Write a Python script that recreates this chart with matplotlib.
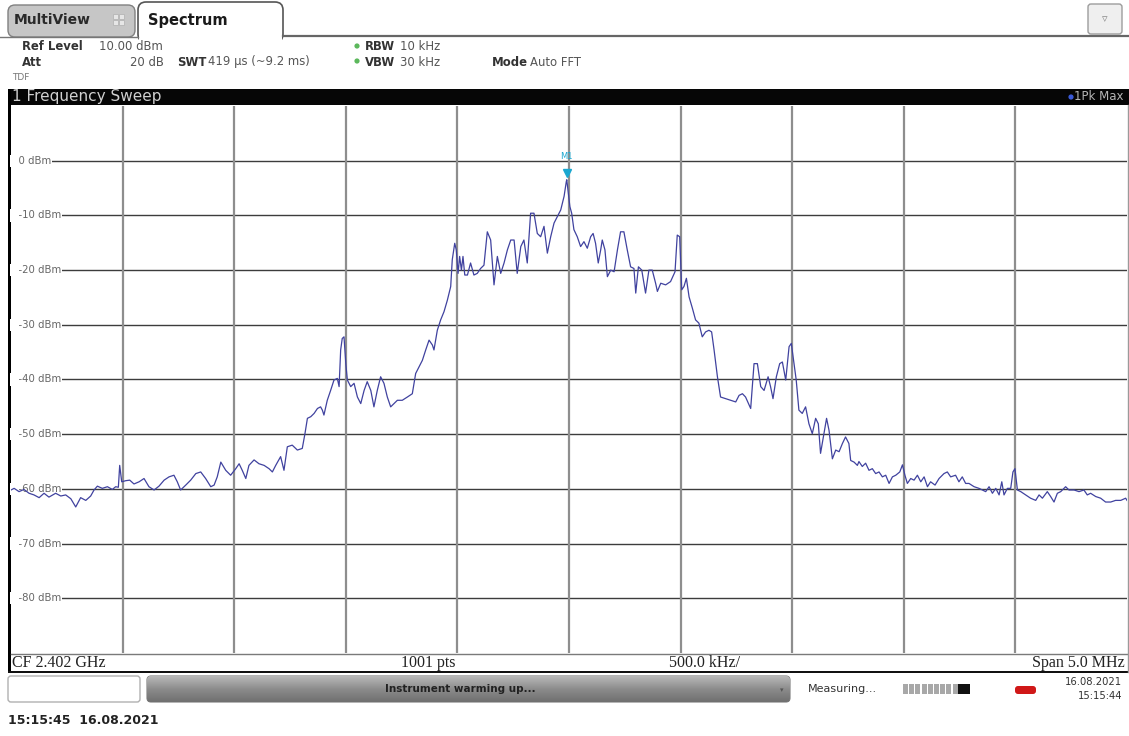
import numpy as np
import matplotlib
matplotlib.use('Agg')
import matplotlib.pyplot as plt
from matplotlib.patches import Rectangle, FancyBboxPatch, Circle
from matplotlib.transforms import blended_transform_factory

W, H = 1129, 736

# ---------------- data ----------------
center_ghz = 2.402
span_mhz = 5.0
n_points = 1001
ref_level_dbm = 10.0
level_ticks = [0, -10, -20, -30, -40, -50, -60, -70, -80]
freq_ticks_khz = [-2000, -1500, -1000, -500, 0, 500, 1000, 1500, 2000]
marker_freq_khz = -10
marker_level_dbm = -3.48

freq_khz = [
    -2500, -2486, -2464, -2442, -2419, -2397, -2374, -2352, -2330, -2300,
    -2277, -2255, -2232, -2210, -2188, -2165, -2143, -2128, -2113, -2091,
    -2068, -2046, -2031, -2019, -2013, -2004, -1986, -1968, -1949, -1926,
    -1904, -1882, -1859, -1837, -1814, -1792, -1770, -1755, -1740, -1717,
    -1695, -1672, -1650, -1628, -1605, -1590, -1576, -1560, -1538, -1516,
    -1493, -1478, -1464, -1448, -1434, -1411, -1389, -1366, -1344, -1329,
    -1314, -1292, -1277, -1262, -1240, -1217, -1195, -1183, -1172,
    -1157, -1142, -1127, -1113, -1105, -1098, -1083, -1068, -1053, -1038,
    -1030, -1023, -1016, -1008, -1000, -993, -978, -963, -948, -933,
    -918, -904, -888, -874, -859, -844, -829, -814, -799, -784,
    -769, -747, -724, -702, -687, -672, -657, -642, -627, -612,
    -605, -590, -575, -560, -545, -530, -523, -512, -505, -497,
    -490, -482, -475, -467, -455, -441, -426, -411, -396, -381,
    -366, -351, -336, -321, -306, -291, -276, -261, -246, -232,
    -216, -202, -187, -172, -157, -142, -127, -112, -97, -82,
    -67, -52, -37, -22, -12, -10, 4,
    12, 22, 37, 52, 67, 82, 97, 108, 119, 131,
    142, 149, 161, 172, 187, 202, 217, 231, 246, 261,
    276, 291, 299, 311, 326, 343, 358, 373, 388, 396,
    411, 433, 455, 475, 485, 496, 505, 515, 526, 538,
    553, 567, 582, 597, 612, 627, 639, 650, 665, 679,
    702, 724, 747, 762, 777, 791, 814, 829, 844, 859,
    874, 892, 903, 914, 929, 944, 956, 971, 986, 996,
    1008, 1018, 1030, 1045, 1060, 1075, 1090, 1105, 1117, 1127,
    1142, 1154, 1165, 1180, 1195, 1210, 1225, 1239, 1254, 1262,
    1277, 1292,
    1299, 1314, 1329, 1344, 1359, 1374, 1389, 1404, 1419, 1434,
    1449, 1464, 1482, 1494, 1505, 1516, 1531, 1546, 1561, 1576,
    1591, 1606, 1620, 1640, 1658, 1680, 1695, 1710, 1732, 1747,
    1762, 1777, 1792, 1815, 1837, 1852, 1867, 1882, 1897, 1912,
    1927, 1939, 1949, 1964, 1979, 1989, 1998, 2009, 2024, 2046,
    2068, 2091, 2106, 2121, 2143, 2158, 2173, 2188, 2203, 2225,
    2240, 2263, 2285, 2307, 2322, 2337, 2360, 2382, 2404, 2427,
    2449, 2472, 2494, 2500,
]

level_dbm = [
    -60.2, -59.9, -60.5, -60.1, -60.8, -61.1, -61.6, -60.8, -61.5, -60.8,
    -61.3, -61.1, -61.8, -63.3, -61.6, -62.1, -61.3, -60.2, -59.5, -59.9,
    -59.6, -60.1, -59.6, -59.7, -55.7, -58.7, -58.5, -58.4, -59.1, -58.7,
    -58.1, -59.6, -60.2, -59.5, -58.4, -57.8, -57.5, -58.7, -60.2, -59.3,
    -58.4, -57.2, -56.9, -58.1, -59.6, -59.3, -57.8, -55.1, -56.6, -57.5,
    -56.3, -55.4, -56.6, -58.1, -55.7, -54.7, -55.4, -55.7, -56.3, -56.9,
    -55.7, -54.1, -56.6, -52.3, -52.0, -52.9, -52.6, -49.9, -47.1,
    -46.8, -46.2, -45.3, -45.0, -45.6, -46.5, -43.8, -42.0, -40.1, -39.8,
    -41.3, -34.6, -32.5, -32.2, -37.1, -40.1, -41.3, -40.7, -43.2, -44.4,
    -42.0, -40.4, -42.0, -45.0, -42.0, -39.5, -40.7, -43.2, -45.0, -44.4,
    -43.8, -43.8, -43.2, -42.6, -38.9, -37.7, -36.5, -34.6, -32.8, -33.7,
    -34.6, -31.0, -29.1, -27.6, -25.5, -23.0, -18.1, -15.1, -16.3, -20.6,
    -17.5, -20.0, -17.5, -20.9, -20.9, -18.7, -20.9, -20.6, -19.7, -19.1,
    -13.0, -14.5, -22.7, -17.5, -20.6, -18.7, -16.3, -14.5, -14.5, -20.6,
    -15.7, -14.5, -18.7, -9.6, -9.6, -13.3, -13.9, -12.0, -16.9, -13.9,
    -11.4, -10.2, -9.0, -6.5, -3.8, -3.48, -8.4,
    -9.6, -12.6, -13.9, -15.7, -14.8, -16.0, -13.9, -13.3, -15.1, -18.7,
    -16.3, -14.5, -16.3, -21.2, -20.0, -20.3, -16.3, -13.0, -13.0, -16.3,
    -19.4, -19.7, -24.2, -19.4, -20.0, -24.2, -20.0, -20.0, -22.4, -23.9,
    -22.4, -22.7, -22.1, -20.3, -13.6, -13.9, -23.6, -23.0, -21.5, -24.9,
    -27.0, -29.1, -29.7, -32.2, -31.3, -31.0, -31.3, -34.6, -39.5, -43.2,
    -43.5, -43.8, -44.1, -42.9, -42.6, -43.2, -45.3, -37.1, -37.1, -41.3,
    -42.0, -39.5, -41.3, -43.5, -39.5, -37.1, -36.8, -40.1, -34.0, -33.4,
    -37.1, -40.1, -45.6, -46.2, -45.0, -48.1, -49.9, -47.1, -48.1, -53.5,
    -49.9, -47.1, -49.3, -54.5, -52.9, -53.2, -51.7, -50.5, -51.7, -54.8,
    -55.1, -55.7,
    -55.0, -55.9, -55.3, -56.6, -56.3, -57.2, -56.9, -57.8, -57.5, -59.0,
    -57.8, -57.5, -56.9, -55.6, -57.5, -59.0, -58.1, -58.4, -57.5, -58.7,
    -57.8, -59.6, -58.7, -59.3, -58.1, -57.2, -56.9, -57.8, -57.5, -58.7,
    -57.8, -59.0, -59.0, -59.6, -59.9, -60.2, -60.5, -59.6, -60.8, -59.9,
    -61.1, -58.7, -61.1, -59.9, -59.9, -56.9, -56.3, -60.2, -60.5, -61.1,
    -61.7, -62.1, -61.1, -61.7, -60.5, -61.4, -62.4, -60.8, -60.5, -59.6,
    -60.2, -60.2, -60.5, -60.2, -61.1, -60.8, -61.4, -61.7, -62.4, -62.4,
    -62.1, -62.1, -61.7, -62.1,
]

# ---------------- figure ----------------
plt.rcParams['font.family'] = ['DejaVu Sans']
fig = plt.figure(figsize=(W / 100, H / 100), dpi=100)
fig.patch.set_facecolor('white')

bg = fig.add_axes([0, 0, 1, 1])
bg.set_xlim(0, W)
bg.set_ylim(H, 0)
bg.axis('off')

# --- tabs ---
bg.add_patch(FancyBboxPatch((8, 5), 127, 32, boxstyle='round,pad=0,rounding_size=7',
                            fc='#c6c6c6', ec='#808080', lw=1.0))
bg.add_patch(FancyBboxPatch((138, 2), 145, 40, boxstyle='round,pad=0,rounding_size=8',
                            fc='white', ec='#555555', lw=1.2))
bg.add_patch(Rectangle((139, 34), 143, 10, fc='white', ec='none'))
bg.plot([283, W], [35.5, 35.5], color='#666666', lw=1.6)
bg.plot([0, 138], [36.5, 36.5], color='#777777', lw=1.0)
bg.text(14, 20, 'MultiView', fontsize=10, fontweight='bold', color='#2a2a2a', va='center')
for dx in (0, 6):
    for dy in (0, 6):
        bg.add_patch(Rectangle((113 + dx, 14 + dy), 4.5, 4.5, fc='#e6e6e6', ec='#b5b5b5', lw=0.6))
bg.text(148, 20, 'Spectrum', fontsize=10.5, fontweight='bold', color='#1a1a1a', va='center')
bg.add_patch(FancyBboxPatch((1088, 4), 34, 30, boxstyle='round,pad=0,rounding_size=3',
                            fc='#efefef', ec='#9c9c9c', lw=1.0))
bg.text(1105, 19, '\u25bf', fontsize=8, color='#888888', ha='center', va='center')

# --- header ---
hs = 8.4
hc = '#333333'
vc = '#555555'
bg.text(22, 47, 'Ref Level', fontsize=hs, fontweight='bold', color=hc, va='center')
bg.text(99, 47, '10.00 dBm', fontsize=hs, color=vc, va='center')
bg.text(22, 62, 'Att', fontsize=hs, fontweight='bold', color=hc, va='center')
bg.text(164, 62, '20 dB', fontsize=hs, color=vc, va='center', ha='right')
bg.text(177, 62, 'SWT', fontsize=hs, fontweight='bold', color=hc, va='center')
bg.text(208, 62, '419 \u00b5s (~9.2 ms)', fontsize=hs, color=vc, va='center')
bg.add_patch(Circle((357, 46), 2.6, fc='#5cb85c', ec='none'))
bg.text(365, 47, 'RBW', fontsize=hs, fontweight='bold', color=hc, va='center')
bg.text(400, 47, '10 kHz', fontsize=hs, color=vc, va='center')
bg.add_patch(Circle((357, 61), 2.6, fc='#5cb85c', ec='none'))
bg.text(365, 62, 'VBW', fontsize=hs, fontweight='bold', color=hc, va='center')
bg.text(400, 62, '30 kHz', fontsize=hs, color=vc, va='center')
bg.text(492, 62, 'Mode', fontsize=hs, fontweight='bold', color=hc, va='center')
bg.text(530, 62, 'Auto FFT', fontsize=hs, color=vc, va='center')
bg.text(12, 77, 'TDF', fontsize=6.5, color='#777777', va='center')

# --- black title bar ---
bg.add_patch(Rectangle((8, 89), W - 8, 16, fc='#060606', ec='none'))
bg.text(12, 97, '1 Frequency Sweep', fontsize=11, color='#d0d0d0', va='center')
bg.add_patch(Circle((1071, 97), 2.6, fc='#3a5ad8', ec='none'))
bg.text(1124, 97, '1Pk Max', fontsize=8.5, color='#b5b5b5', va='center', ha='right')

# --- main plot ---
x0, x1, y0, y1 = 11, 1127, 106, 653
ax = fig.add_axes([x0 / W, 1 - y1 / H, (x1 - x0) / W, (y1 - y0) / H])
ax.set_facecolor('white')
ax.set_xlim(-span_mhz * 500, span_mhz * 500)
ax.set_ylim(ref_level_dbm - 100, ref_level_dbm)
for lv in level_ticks:
    ax.axhline(lv, color='#3c3c3c', lw=1.0, zorder=1)
for fk in freq_ticks_khz:
    ax.axvline(fk, color='#8e8e8e', lw=1.6, zorder=1)
ax.set_xticks([])
ax.set_yticks([])
for s in ('top', 'right', 'bottom', 'left'):
    ax.spines[s].set_visible(False)

tr = blended_transform_factory(ax.transAxes, ax.transData)
for lv in level_ticks:
    ax.text(0.0005, lv, f'  {lv} dBm', transform=tr, fontsize=7.3, color='#666666',
            va='center', ha='left', zorder=2,
            bbox=dict(fc='white', ec='none', pad=0.8))

ax.plot(freq_khz, level_dbm, color='#40429f', lw=0.9, zorder=3)

ax.plot([marker_freq_khz], [marker_level_dbm + 1.3], marker='v', ms=6,
        color='#1aa7d0', mec='#1aa7d0', zorder=4, ls='none')
ax.text(marker_freq_khz, marker_level_dbm + 4.2, 'M1', fontsize=6, color='#1aa7d0',
        ha='center', va='center', zorder=4)

# marker readout
mc = '#3a9cc8'
bg.text(931, 120, 'M1[1]', fontsize=8.5, color=mc, va='center',
        family='DejaVu Sans Mono')
bg.text(1124, 120, f'{marker_level_dbm:.2f} dBm', fontsize=8.5, color=mc, va='center', ha='right')
bg.text(1124, 137, f'{center_ghz + marker_freq_khz / 1e6:.8f} GHz', fontsize=8.5, color=mc,
        va='center', ha='right')

# --- frame and bottom info bar ---
bg.add_patch(Rectangle((7.5, 89), 3.5, 584, fc='#000000', ec='none'))
bg.plot([11, 1127], [654, 654], color='#7a7a7a', lw=1.0)
bg.plot([1127.5, 1127.5], [105, 672], color='#9a9a9a', lw=1.0)
bg.add_patch(Rectangle((7.5, 670.5), W - 7.5, 2.5, fc='#111111', ec='none'))
fs = 11.5
bg.text(12, 663, f'CF {center_ghz:.3f} GHz', fontsize=fs, family='Liberation Serif',
        color='#222222', va='center')
bg.text(428, 663, f'{n_points} pts', fontsize=fs, family='Liberation Serif',
        color='#222222', va='center', ha='center')
bg.text(705, 663, f'{span_mhz / 10 * 1000:.1f} kHz/', fontsize=fs, family='Liberation Serif',
        color='#222222', va='center', ha='center')
bg.text(1125, 663, f'Span {span_mhz:.1f} MHz', fontsize=fs, family='Liberation Serif',
        color='#222222', va='center', ha='right')

# --- status row ---
bg.add_patch(FancyBboxPatch((8, 676), 132, 26, boxstyle='round,pad=0,rounding_size=3',
                            fc='white', ec='#b0b0b0', lw=1.0))
grad = np.linspace(0, 1, 32)[:, None]
bar = FancyBboxPatch((147, 676), 643, 26, boxstyle='round,pad=0,rounding_size=4',
                     fc='none', ec='#7a7a7a', lw=0.8)
bg.add_patch(bar)
im = bg.imshow(np.repeat(grad, 2, axis=1), cmap=plt.cm.colors.LinearSegmentedColormap.from_list(
    'g', ['#b8b8b8', '#8c8c8c', '#707070']), extent=(147, 790, 702, 676), aspect='auto', zorder=1)
im.set_clip_path(bar)
bg.set_xlim(0, W)
bg.set_ylim(H, 0)
bg.text(460, 689, 'Instrument warming up...', fontsize=7.5, color='#222222', fontweight='bold',
        ha='center', va='center', zorder=3)
bg.text(782, 690, '\u25be', fontsize=5, color='#555555', ha='center', va='center', zorder=3)
bg.text(808, 689, 'Measuring...', fontsize=8, color='#333333', va='center')
for i in range(9):
    bg.add_patch(Rectangle((903 + i * 6.2, 684), 5.0, 10, fc='#a8a8a8', ec='none'))
bg.add_patch(Rectangle((958, 684), 12, 10, fc='#111111', ec='none'))
bg.add_patch(FancyBboxPatch((1015, 686), 21, 8, boxstyle='round,pad=0,rounding_size=3',
                            fc='#d01818', ec='none'))
bg.text(1122, 682, '16.08.2021', fontsize=7.2, color='#333333', va='center', ha='right')
bg.text(1122, 696, '15:15:44', fontsize=7.2, color='#333333', va='center', ha='right')

bg.text(8, 720, '15:15:45  16.08.2021', fontsize=9, fontweight='bold', color='#222222', va='center')

fig.savefig('out.png', dpi=100, facecolor='white')
